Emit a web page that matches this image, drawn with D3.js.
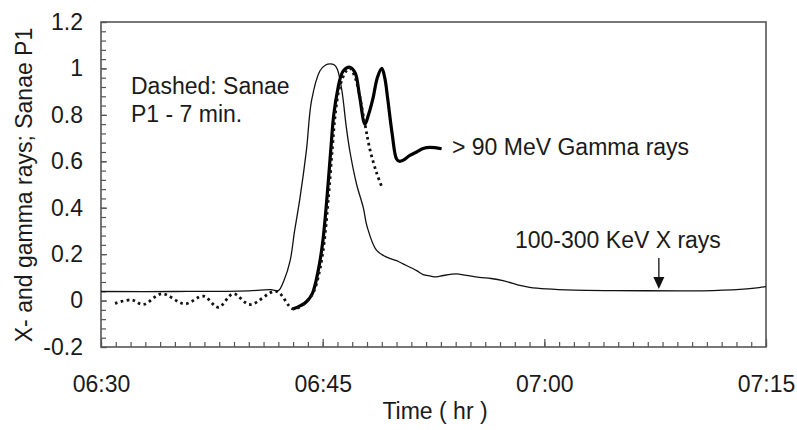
<!DOCTYPE html>
<html>
<head>
<meta charset="utf-8">
<script src="https://cdn.jsdelivr.net/npm/d3@7"></script>
<style>
  html, body { margin: 0; padding: 0; background: #fff; }
  svg { display: block; }
  text { font-family: "Liberation Sans", Arial, sans-serif; fill: #1a1a1a; }
</style>
</head>
<body>
<svg id="chart" width="797" height="430"></svg>
<script>
// Time in minutes after 06:30
const xrayTime = [0, 5, 10, 11.5, 12.0, 12.4, 12.8, 13.1, 13.46, 13.9, 14.25, 14.82, 15.2, 15.5, 15.8, 16.0, 16.3, 16.6, 16.85, 17.3, 17.75, 18.0, 18.65, 19.33, 20.0, 20.45, 21.36, 21.8, 22.26, 22.7, 23.16, 24.06, 24.6, 25.6, 26.4, 27.2, 28.35, 29.0, 30.15, 32, 34.7, 39.2, 41.4, 43.7, 45];
const xrayValue = [0.039, 0.039, 0.042, 0.047, 0.043, 0.09, 0.172, 0.3, 0.44, 0.647, 0.862, 0.99, 1.015, 1.02, 1.015, 0.995, 0.905, 0.747, 0.64, 0.5, 0.4, 0.32, 0.216, 0.187, 0.172, 0.158, 0.129, 0.112, 0.106, 0.102, 0.108, 0.115, 0.11, 0.1, 0.095, 0.086, 0.065, 0.057, 0.05, 0.045, 0.043, 0.042, 0.043, 0.05, 0.06];

const gammaTime = [13.0, 13.5, 13.9, 14.3, 14.7, 15.0, 15.3, 15.55, 15.75, 16.05, 16.2, 16.4, 16.85, 17.2, 17.5, 17.86, 18.1, 18.4, 18.7, 19.0, 19.2, 19.4, 19.7, 20.0, 20.2, 20.45, 20.9, 21.36, 21.8, 22.26, 23.05];
const gammaValue = [-0.036, -0.022, -0.005, 0.03, 0.13, 0.25, 0.45, 0.65, 0.8, 0.92, 0.96, 0.99, 1.005, 0.98, 0.88, 0.76, 0.8, 0.87, 0.96, 1.0, 0.96, 0.87, 0.72, 0.61, 0.6, 0.605, 0.625, 0.64, 0.655, 0.66, 0.654];

const sanaeTime = [0.95, 2.07, 2.86, 4.1, 5.68, 6.92, 7.94, 8.95, 10.08, 11.85, 13.0, 13.9, 14.4, 14.8, 15.1, 15.4, 15.65, 15.85, 16.15, 16.6, 16.85, 17.2, 17.86, 18.2, 18.65, 19.0];
const sanaeValue = [-0.012, 0.003, -0.017, 0.029, -0.014, 0.019, -0.029, 0.029, -0.017, 0.04, -0.036, -0.005, 0.04, 0.13, 0.25, 0.45, 0.65, 0.8, 0.92, 0.99, 1.0, 0.96, 0.76, 0.65, 0.55, 0.49];

const xTickValues = [0, 15, 30, 45];
const xTickLabels = ["06:30", "06:45", "07:00", "07:15"];
const yTickValues = [-0.2, 0, 0.2, 0.4, 0.6, 0.8, 1, 1.2];
const yTickLabels = ["-0.2", "0", "0.2", "0.4", "0.6", "0.8", "1", "1.2"];

const svg = d3.select("#chart");
const L = 101, R = 766, T = 22, B = 347;
const FS = 23;
const x = d3.scaleLinear().domain([0, 45]).range([L, R]);
const y = d3.scaleLinear().domain([-0.2, 1.2]).range([B, T]);
const axisColor = "#555";

// minor ticks
const xMinor = d3.range(0, 46, 1);
const yMinor = d3.range(0, 36).map(i => +(-0.2 + i * 0.04).toFixed(2));

const gx = svg.append("g").attr("transform", `translate(0,${B})`);
gx.call(d3.axisBottom(x).tickValues(xMinor).tickFormat("").tickSize(-5));
gx.append("g").call(d3.axisBottom(x).tickValues(xTickValues)
  .tickFormat((d, i) => xTickLabels[i]).tickSize(-8).tickPadding(29));
gx.selectAll(".domain").remove();
gx.selectAll("line").attr("stroke", axisColor).attr("stroke-width", 1.2);
gx.selectAll("text").attr("font-size", FS).attr("fill", "#1a1a1a")
  .attr("font-family", '"Liberation Sans", Arial, sans-serif');

const gy = svg.append("g").attr("transform", `translate(${L},0)`);
gy.call(d3.axisLeft(y).tickValues(yMinor).tickFormat("").tickSize(-5));
gy.append("g").call(d3.axisLeft(y).tickValues(yTickValues)
  .tickFormat((d, i) => yTickLabels[i]).tickSize(-6).tickPadding(18));
gy.selectAll(".domain").remove();
gy.selectAll("line").attr("stroke", axisColor).attr("stroke-width", 1.2);
gy.selectAll("text").attr("font-size", FS).attr("fill", "#1a1a1a")
  .attr("font-family", '"Liberation Sans", Arial, sans-serif');

// frame
svg.append("rect").attr("x", L).attr("y", T).attr("width", R - L).attr("height", B - T)
  .attr("fill", "none").attr("stroke", axisColor).attr("stroke-width", 1.6);

const line = d3.line().x(d => x(d[0])).y(d => y(d[1])).curve(d3.curveCatmullRom.alpha(0.5));

svg.append("path").datum(xrayTime.map((t, i) => [t, xrayValue[i]]))
  .attr("d", line).attr("fill", "none").attr("stroke", "#111").attr("stroke-width", 1.3);

svg.append("path").datum(gammaTime.map((t, i) => [t, gammaValue[i]]))
  .attr("d", line).attr("fill", "none").attr("stroke", "#000").attr("stroke-width", 3.2)
  .attr("stroke-linejoin", "round");

svg.append("path").datum(sanaeTime.map((t, i) => [t, sanaeValue[i]]))
  .attr("d", line).attr("fill", "none").attr("stroke", "#111").attr("stroke-width", 2.8)
  .attr("stroke-dasharray", "2.6,3.4");

// annotations
const ann = svg.append("g").attr("font-size", FS);
ann.append("text").attr("x", 131).attr("y", 94).text("Dashed: Sanae");
ann.append("text").attr("x", 131).attr("y", 122).text("P1 - 7 min.");
ann.append("text").attr("x", 452).attr("y", 155).text("> 90 MeV Gamma rays");
ann.append("text").attr("x", 515).attr("y", 248).text("100-300 KeV X rays");

// arrow
const ax = x(37.75);
svg.append("line").attr("x1", ax).attr("x2", ax).attr("y1", 258).attr("y2", 279)
  .attr("stroke", "#111").attr("stroke-width", 1.3);
svg.append("path").attr("d", `M${ax - 5.5},277 L${ax + 5.5},277 L${ax},289 Z`).attr("fill", "#111");

// axis titles
svg.append("text").attr("x", 435).attr("y", 419).attr("text-anchor", "middle")
  .attr("font-size", FS).text("Time ( hr )");
svg.append("text").attr("transform", "translate(32,185) rotate(-90)")
  .attr("text-anchor", "middle").attr("font-size", FS).text("X- and gamma rays; Sanae P1");
</script>
</body>
</html>
